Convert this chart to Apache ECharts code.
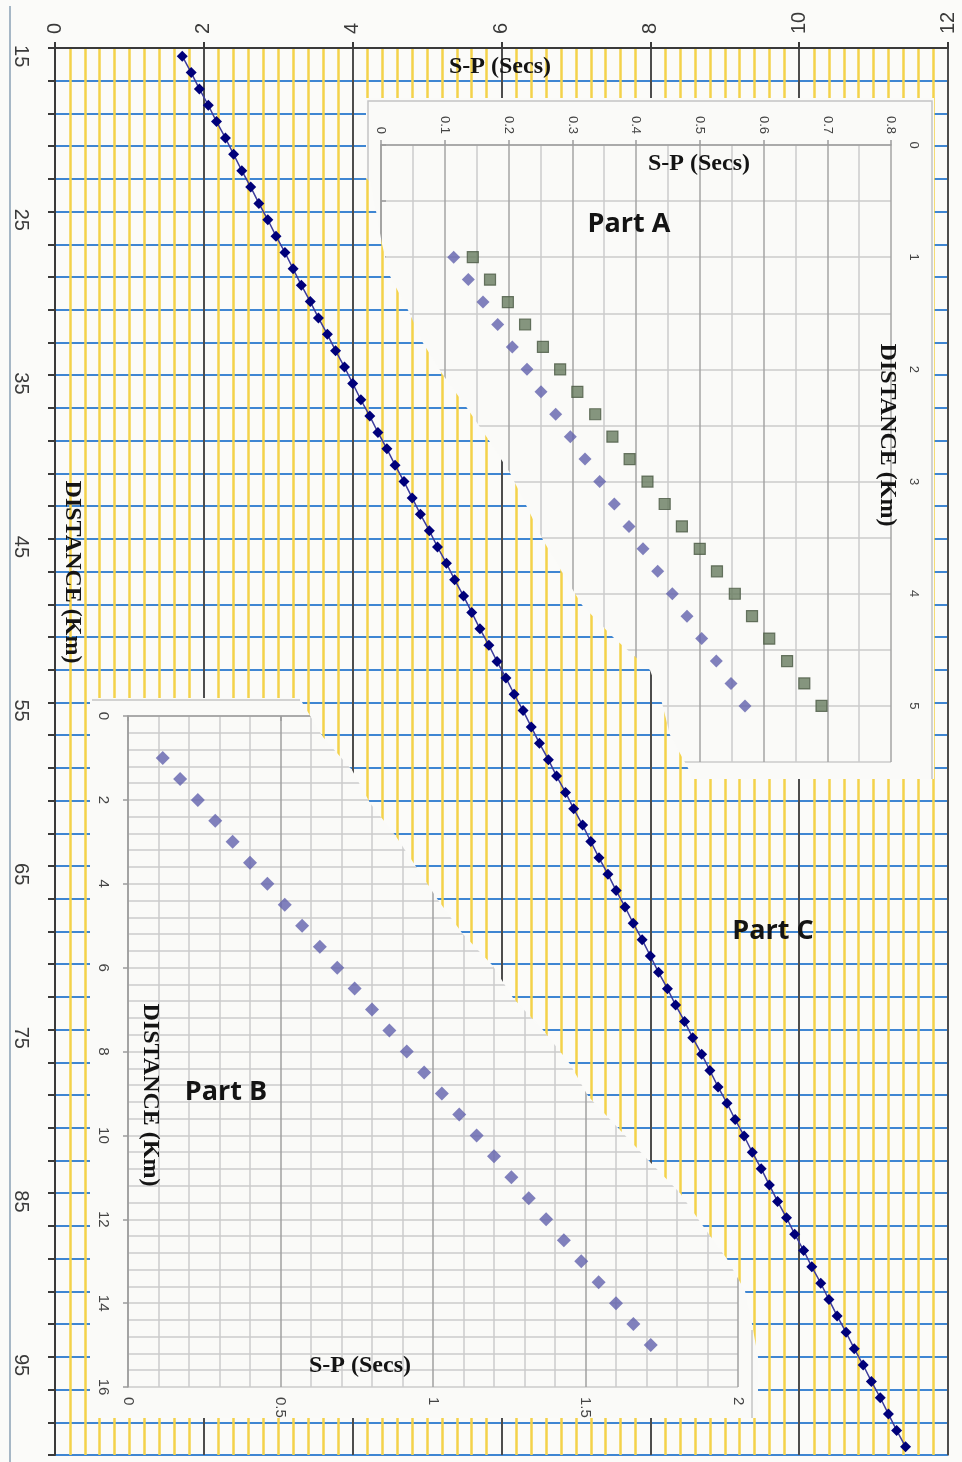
<!DOCTYPE html>
<html>
<head>
<meta charset="utf-8">
<title>S-P time versus distance</title>
<script src="https://cdn.jsdelivr.net/npm/echarts@6.0.0/dist/echarts.min.js"></script>
<style>
  html, body { margin: 0; padding: 0; background: #fbfbf9; }
  .layer { position: absolute; left: 0; top: 0; width: 962px; height: 1462px; }
</style>
</head>
<body>
<div id="main" class="layer"></div>
<div id="partA" class="layer"></div>
<div id="partB" class="layer"></div>
<script>
// ---------- data ----------
// Part C: distance (km) categories and S-P interval (s)
const distanceKm = [15,16,17,18,19,20,21,22,23,24,25,26,27,28,29,30,31,32,33,34,35,36,37,38,39,40,
  41,42,43,44,45,46,47,48,49,50,51,52,53,54,55,56,57,58,59,60,61,62,63,64,65,66,67,68,69,70,
  71,72,73,74,75,76,77,78,79,80,81,82,83,84,85,86,87,88,89,90,91,92,93,94,95,96,97,98,99,100];
const spMain = [1.71,1.83,1.94,2.06,2.17,2.29,2.40,2.51,2.63,2.74,2.86,2.97,3.09,3.20,3.31,3.43,
  3.54,3.66,3.77,3.89,4.00,4.11,4.23,4.34,4.46,4.57,4.69,4.80,4.91,5.03,5.14,5.26,5.37,5.49,5.60,
  5.71,5.83,5.94,6.06,6.17,6.29,6.40,6.51,6.63,6.74,6.86,6.97,7.09,7.20,7.31,7.43,7.54,7.66,7.77,
  7.89,8.00,8.11,8.23,8.34,8.46,8.57,8.69,8.80,8.91,9.03,9.14,9.26,9.37,9.49,9.60,9.71,9.83,9.94,
  10.06,10.17,10.29,10.40,10.51,10.63,10.74,10.86,10.97,11.09,11.20,11.31,11.43];

// Part A: two sets over 1-5 km
const partADistance = [1.0,1.2,1.4,1.6,1.8,2.0,2.2,2.4,2.6,2.8,3.0,3.2,3.4,3.6,3.8,4.0,4.2,4.4,4.6,4.8,5.0];
const partADiamondSp = [0.114,0.137,0.160,0.183,0.206,0.229,0.251,0.274,0.297,0.320,0.343,0.366,0.389,
  0.411,0.434,0.457,0.480,0.503,0.526,0.549,0.571];
const partASquareSp = [0.144,0.171,0.199,0.226,0.254,0.281,0.308,0.336,0.363,0.390,0.418,0.445,0.472,
  0.500,0.527,0.555,0.582,0.609,0.637,0.664,0.691];

// Part B: 1-15 km
const partBDistance = [1,1.5,2,2.5,3,3.5,4,4.5,5,5.5,6,6.5,7,7.5,8,8.5,9,9.5,10,10.5,11,11.5,12,12.5,13,13.5,14,14.5,15];
const partBSp = [0.114,0.171,0.229,0.286,0.343,0.400,0.457,0.514,0.571,0.629,0.686,0.743,0.800,0.857,
  0.914,0.971,1.029,1.086,1.143,1.200,1.257,1.314,1.371,1.429,1.486,1.543,1.600,1.657,1.714];

// ---------- layout ----------
// outlines of the two inset panels (page pixels)
const partAOutline = [[366,98],[934,98],[934,779],[692,779],[688,768],[670,735],[662,703],[650,670],
  [613,637],[582,605],[562,572],[543,540],[527,507],[510,473],[490,442],[467,408],[443,375],[423,343],
  [408,310],[390,276],[382,244],[376,211],[370,182],[366,178]];
const partBOutline = [[90,698],[300,698],[303,704],[323,737],[352,770],[370,803],[395,835],[417,868],
  [438,900],[462,933],[493,966],[513,998],[543,1030],[570,1064],[588,1096],[620,1130],[650,1162],
  [680,1193],[703,1226],[727,1259],[745,1291],[752,1324],[758,1357],[758,1418],[90,1418]];

const SANS = '"Liberation Sans", Arial, sans-serif';
const SERIF = '"Liberation Serif", "Times New Roman", serif';
const TITLE_FONT = 'bold 24px ' + SERIF;
const PART_FONT = 'bold 27px "Open Sans", sans-serif';
const PANEL_BG = '#fafaf8';

function clipTo(el, pts) {
  el.style.clipPath = 'polygon(' + pts.map(p => p[0] + 'px ' + p[1] + 'px').join(',') + ')';
}
function label(text, x, y, font, rot) {
  return { type: 'text', x: x, y: y, rotation: rot || 0, z: 50,
    style: { text: text, font: font, fill: '#141414', align: 'center', verticalAlign: 'middle' } };
}
const CW = -Math.PI / 2;

// ---------- Part C (main chart) ----------
const mainChart = echarts.init(document.getElementById('main'));
mainChart.setOption({
  backgroundColor: '#fbfbf9',
  animation: false,
  grid: { left: 55, top: 48, width: 893, height: 1407, show: true, borderColor: '#707070',
    borderWidth: 1.5, outerBoundsMode: 'none' },
  xAxis: {
    type: 'value', position: 'top', min: 0, max: 12, interval: 2,
    axisLine: { show: true, lineStyle: { color: '#3a3a3a', width: 2 } },
    axisTick: { show: true, length: 6, lineStyle: { color: '#3a3a3a', width: 2 } },
    axisLabel: { rotate: -90, fontSize: 20, fontFamily: SANS, color: '#3a3a3a', margin: 14 },
    splitLine: { show: true, lineStyle: { color: '#4d4d4d', width: 2 } },
    minorTick: { show: false, splitNumber: 10 },
    minorSplitLine: { show: true, lineStyle: { color: '#f4d24a', width: 2.5 } }
  },
  yAxis: {
    type: 'category', data: distanceKm.map(String), inverse: true, boundaryGap: true,
    axisLine: { show: true, lineStyle: { color: '#3a3a3a', width: 2 } },
    axisTick: { show: true, interval: 1, length: 7, lineStyle: { color: '#3a3a3a', width: 2 } },
    axisLabel: { interval: 9, rotate: -90, fontSize: 20, fontFamily: SANS, color: '#3a3a3a', margin: 24 },
    splitLine: { show: true, interval: 1, lineStyle: { color: '#3f86d2', width: 2 } }
  },
  series: [{
    type: 'line', name: 'Part C',
    data: distanceKm.map((d, i) => [spMain[i], String(d)]),
    symbol: 'diamond', symbolSize: 11, showAllSymbol: true,
    itemStyle: { color: '#00007a' },
    lineStyle: { color: '#3d3d9c', width: 1.5 },
    z: 5
  }],
  graphic: [
    { type: 'line', shape: { x1: 10, y1: 6, x2: 10, y2: 1462 }, style: { stroke: '#8aa0b4', lineWidth: 1.5 } },
    label('S-P (Secs)', 500, 67, TITLE_FONT),
    label('DISTANCE (Km)', 72, 572, TITLE_FONT, CW),
    label('Part C', 773, 931, PART_FONT)
  ]
});

// ---------- inset charts ----------
function insetGrayAxis(extra) {
  return Object.assign({
    type: 'value',
    axisLine: { show: true, lineStyle: { color: '#9c9c9c', width: 1.5 } },
    axisTick: { show: true, length: 5, lineStyle: { color: '#9c9c9c', width: 1.5 } },
    minorTick: { show: false },
    minorSplitLine: { show: true, lineStyle: { color: '#cbcbcb', width: 1.5 } }
  }, extra);
}

// Part A
const elA = document.getElementById('partA');
clipTo(elA, partAOutline);
const chartA = echarts.init(elA);
chartA.setOption({
  backgroundColor: PANEL_BG,
  animation: false,
  grid: { left: 381, top: 145, width: 510, height: 617, outerBoundsMode: 'none' },
  xAxis: insetGrayAxis({
    position: 'top', min: 0, max: 0.8, interval: 0.1,
    axisLabel: { rotate: -90, fontSize: 13, fontFamily: SANS, color: '#444', margin: 11 },
    splitLine: { show: true, lineStyle: { color: '#a4a4a4', width: 1.5 } },
    minorTick: { show: false, splitNumber: 2 }
  }),
  yAxis: insetGrayAxis({
    position: 'right', inverse: true, min: 0, max: 5.5, interval: 0.5,
    axisLabel: { rotate: -90, fontSize: 13, fontFamily: SANS, color: '#444', margin: 16,
      formatter: v => (Number.isInteger(v) ? String(v) : '') },
    splitLine: { show: true, lineStyle: { color: '#cbcbcb', width: 1.5 } },
    minorSplitLine: { show: false }
  }),
  series: [
    { type: 'scatter', name: 'Part A diamond', symbol: 'diamond', symbolSize: 13,
      itemStyle: { color: '#6262ad' },
      data: partADistance.map((d, i) => [partADiamondSp[i], d]) },
    { type: 'scatter', name: 'Part A square', symbol: 'rect', symbolSize: 11,
      itemStyle: { color: '#687c5f', borderColor: '#4b5a45', borderWidth: 1.2 },
      data: partADistance.map((d, i) => [partASquareSp[i], d]) }
  ],
  graphic: [
    { type: 'polyline', shape: { points: [[368, 182], [368, 101], [932, 101], [932, 779]] },
      style: { stroke: '#c4c4c4', lineWidth: 1.5, fill: null } },
    label('S-P (Secs)', 699, 164, TITLE_FONT),
    label('DISTANCE (Km)', 887, 435, TITLE_FONT, CW),
    label('Part A', 629, 224, PART_FONT)
  ]
});

// Part B
const elB = document.getElementById('partB');
clipTo(elB, partBOutline);
const chartB = echarts.init(elB);
chartB.setOption({
  backgroundColor: PANEL_BG,
  animation: false,
  grid: { left: 128, top: 716, width: 610, height: 671, outerBoundsMode: 'none' },
  xAxis: insetGrayAxis({
    position: 'bottom', min: 0, max: 2, interval: 0.5,
    axisLabel: { rotate: -90, fontSize: 15, fontFamily: SANS, color: '#444', margin: 10 },
    splitLine: { show: true, lineStyle: { color: '#a0a0a0', width: 1.5 } },
    minorTick: { show: false, splitNumber: 5 }
  }),
  yAxis: insetGrayAxis({
    position: 'left', inverse: true, min: 0, max: 16, interval: 2,
    axisLabel: { rotate: -90, fontSize: 15, fontFamily: SANS, color: '#444', margin: 17 },
    splitLine: { show: true, lineStyle: { color: '#cbcbcb', width: 1.5 } },
    minorTick: { show: false, splitNumber: 5 }
  }),
  series: [
    { type: 'scatter', name: 'Part B', symbol: 'diamond', symbolSize: 14,
      itemStyle: { color: '#6262ad' },
      data: partBDistance.map((d, i) => [partBSp[i], d]) }
  ],
  graphic: [
    { type: 'line', shape: { x1: 92, y1: 700, x2: 300, y2: 700 }, style: { stroke: '#c4c4c4', lineWidth: 1.5 } },
    { type: 'line', shape: { x1: 752, y1: 1330, x2: 752, y2: 1418 }, style: { stroke: '#c4c4c4', lineWidth: 1.5 } },
    label('S-P (Secs)', 360, 1366, TITLE_FONT),
    label('DISTANCE (Km)', 150, 1095, TITLE_FONT, CW),
    label('Part B', 226, 1092, PART_FONT)
  ]
});
</script>
</body>
</html>
